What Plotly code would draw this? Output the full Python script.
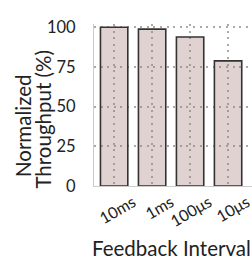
import plotly.graph_objects as go

categories = ["10ms", "1ms", "100μs", "10μs"]
throughput = [100, 98.8, 93.8, 78.8]
y_ticks = [0, 25, 50, 75, 100]

FONT = "Lato"
TXT = "#222222"

fig = go.Figure()
fig.add_trace(go.Bar(
    x=categories, y=throughput, width=0.72,
    marker=dict(color="rgba(170,125,125,0.35)", line=dict(color="#333333", width=1.6)),
))

fig.update_layout(
    width=252, height=260,
    margin=dict(l=94, r=0, t=24, b=74, autoexpand=False),
    paper_bgcolor="white", plot_bgcolor="white",
    showlegend=False,
    font=dict(family=FONT, color=TXT),
    xaxis=dict(
        automargin=False,
        range=[-0.53, 3.63], showline=True, linecolor="#cccccc", linewidth=1.2,
        showgrid=True, gridcolor="#aaaaaa", gridwidth=1.5, griddash="2px,4.6px",
        tickangle=-30, tickfont=dict(size=16, family=FONT, color=TXT), ticklabelshift=19,
        ticklabelstandoff=0,
        zeroline=False,
    ),
    yaxis=dict(
        automargin=False,
        range=[0, 102], showline=True, linecolor="#cccccc", linewidth=1.2,
        showgrid=True, gridcolor="#aaaaaa", gridwidth=1.5, griddash="2px,4.6px",
        tickvals=y_ticks, tickfont=dict(size=16.5, family=FONT, color=TXT), ticklabelstandoff=14,
        zeroline=False,
    ),
)

fig.add_annotation(text="Feedback Interval", xref="paper", yref="paper", x=0.5, y=0,
                   xanchor="center", yanchor="middle", showarrow=False,
                   font=dict(size=20.5, family=FONT, color=TXT), yshift=-62, xshift=-2)
fig.add_annotation(text="Normalized", xref="paper", yref="paper", x=0, y=0.37,
                   xanchor="center", yanchor="middle", textangle=-90, showarrow=False,
                   font=dict(size=20.5, family=FONT, color=TXT), xshift=-71)
fig.add_annotation(text="Throughput (%)", xref="paper", yref="paper", x=0, y=0.41,
                   xanchor="center", yanchor="middle", textangle=-90, showarrow=False,
                   font=dict(size=20.5, family=FONT, color=TXT), xshift=-51)

fig.write_html(
    "out.html",
    config={"displayModeBar": False},
    post_script="document.body.style.margin='0';document.body.style.overflow='hidden';",
)
